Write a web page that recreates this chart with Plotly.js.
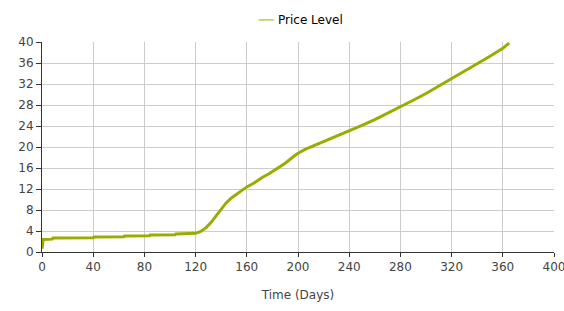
<!DOCTYPE html>
<html>
<head>
<meta charset="utf-8">
<script src="https://cdn.plot.ly/plotly-3.0.1.min.js"></script>
<style>html,body{margin:0;padding:0;background:#fff;}#chart{width:564px;height:311px;}</style>
</head>
<body>
<div id="chart"></div>
<script>
var seriesName = "Price Level";
var days = [0, 1, 8, 8.5, 40, 40.5, 64, 64.5, 84, 84.5, 104, 104.5, 120, 124, 128, 132, 136, 140, 144, 148, 152, 156, 160, 166, 172, 178, 184, 190, 196, 200, 206, 212, 218, 224, 230, 236, 240, 250, 260, 270, 280, 290, 300, 310, 320, 330, 340, 350, 360, 365];
var price = [0.6, 2.4, 2.45, 2.65, 2.7, 2.85, 2.9, 3.05, 3.1, 3.25, 3.3, 3.45, 3.55, 3.9, 4.6, 5.6, 6.9, 8.2, 9.4, 10.3, 11.0, 11.7, 12.4, 13.2, 14.2, 15.0, 16.0, 16.9, 18.1, 18.8, 19.6, 20.2, 20.8, 21.4, 22.0, 22.6, 23.0, 24.1, 25.2, 26.4, 27.6, 28.9, 30.2, 31.6, 33.0, 34.4, 35.9, 37.3, 38.8, 39.8];
var xTitle = "Time (Days)";

var lineColor = "#99ad00";
var font = {family: "DejaVu Sans, sans-serif", size: 12, color: "#444"};

Plotly.newPlot("chart", [{
  x: days, y: price, type: "scatter", mode: "lines", name: seriesName,
  line: {color: lineColor, width: 3}, showlegend: false
}], {
  width: 564, height: 311,
  margin: {l: 42, r: 10, t: 42, b: 59},
  paper_bgcolor: "#fff", plot_bgcolor: "#fff",
  font: font,
  xaxis: {
    range: [0, 400], tick0: 0, dtick: 40, showgrid: true, gridcolor: "#cccccc", gridwidth: 1,
    zeroline: false, showline: true, linecolor: "#333", linewidth: 1,
    ticks: "outside", ticklen: 4, tickcolor: "#333", ticklabeloverflow: "allow",
    title: {text: xTitle, font: {family: "DejaVu Sans, sans-serif", size: 12, color: "#444"}, standoff: 17},
    fixedrange: true
  },
  yaxis: {
    range: [0, 40], tick0: 0, dtick: 4, showgrid: true, gridcolor: "#cccccc", gridwidth: 1,
    zeroline: false, showline: true, linecolor: "#333", linewidth: 1,
    ticks: "outside", ticklen: 5, tickcolor: "#333", fixedrange: true
  },
  shapes: [{type: "line", xref: "paper", yref: "paper", x0: 0.423, x1: 0.453, y0: 1.105, y1: 1.105,
            line: {color: lineColor, width: 1}}],
  annotations: [{xref: "paper", yref: "paper", x: 0.458, y: 1.105, xanchor: "left", yanchor: "middle",
                 text: seriesName, showarrow: false, font: {family: "DejaVu Sans, sans-serif", size: 12, color: "#000"}}]
}, {displayModeBar: false, staticPlot: true});
</script>
</body>
</html>
